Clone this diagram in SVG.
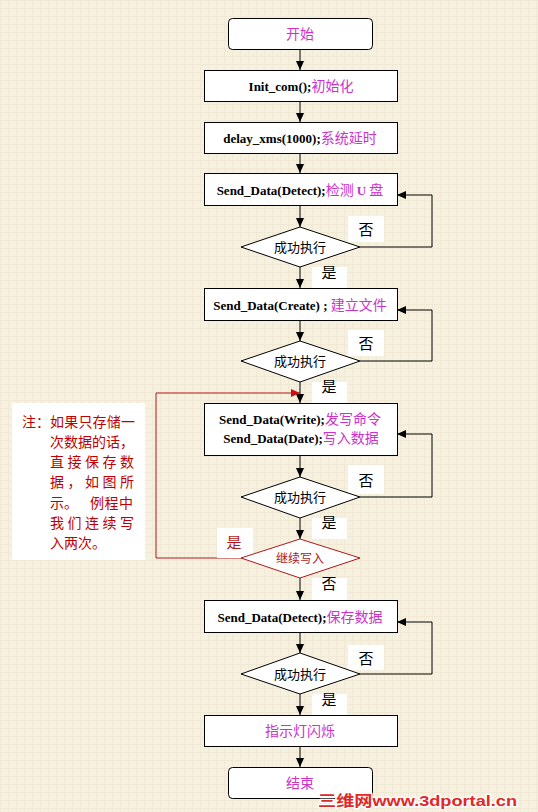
<svg xmlns="http://www.w3.org/2000/svg" width="538" height="812" viewBox="0 0 538 812">
<style>
.bx{fill:#fff;stroke:#000;stroke-width:1}
.dm{fill:#fff;stroke:#000;stroke-width:1}
.dmr{fill:#fff;stroke:#b01818;stroke-width:1}
.ln{fill:none;stroke:#000;stroke-width:1}
.rl{fill:none;stroke:#b01818;stroke-width:1}
.lb{fill:#fff;stroke:none}
.code{font-family:"Liberation Serif","Times New Roman",serif;font-weight:bold;font-size:13px;fill:#000}
.cn{font-family:"Noto Sans CJK SC",sans-serif;font-size:14px;fill:#cc33cc;font-weight:normal}
.t{font-family:"Noto Sans CJK SC",sans-serif;font-size:13px;fill:#000}
.yn{font-family:"Noto Sans CJK SC",sans-serif;font-size:15px;fill:#000}
.red{fill:#b01818}
.note{font-family:"Noto Sans CJK SC",sans-serif;font-size:14px;fill:#c00000}
</style>
<defs>
<pattern id="grid" width="8" height="8" patternUnits="userSpaceOnUse">
<rect width="8" height="8" fill="#f6f0df"/>
<path d="M0 0.5H8M0.5 0V8" stroke="#f1e9d5" stroke-width="1"/>
</pattern>
<marker id="ah" markerWidth="10" markerHeight="10" refX="9" refY="5" orient="auto" markerUnits="userSpaceOnUse">
<path d="M0,1 L9,5 L0,9 z" fill="#000"/>
</marker>
<marker id="ahr" markerWidth="10" markerHeight="10" refX="9" refY="5" orient="auto" markerUnits="userSpaceOnUse">
<path d="M0,1 L9,5 L0,9 z" fill="#cc1010"/>
</marker>
</defs>
<rect width="538" height="812" fill="url(#grid)"/>

<g id="connectors">
<path class="ln" d="M300,49V70" marker-end="url(#ah)"/>
<path class="ln" d="M300,101V122" marker-end="url(#ah)"/>
<path class="ln" d="M300,153V173" marker-end="url(#ah)"/>
<path class="ln" d="M300,206V227" marker-end="url(#ah)"/>
<path class="ln" d="M300,267V288" marker-end="url(#ah)"/>
<path class="ln" d="M300,321V341" marker-end="url(#ah)"/>
<path class="ln" d="M300,382V403" marker-end="url(#ah)"/>
<path class="ln" d="M300,455V477" marker-end="url(#ah)"/>
<path class="ln" d="M300,518V539" marker-end="url(#ah)"/>
<path class="ln" d="M300,578V600" marker-end="url(#ah)"/>
<path class="ln" d="M300,632V653" marker-end="url(#ah)"/>
<path class="ln" d="M300,694V715" marker-end="url(#ah)"/>
<path class="ln" d="M300,746V767" marker-end="url(#ah)"/>
<path class="ln" d="M360,247H432V195H397" marker-end="url(#ah)"/>
<path class="ln" d="M360,361H432V310H397" marker-end="url(#ah)"/>
<path class="ln" d="M360,497H432V434H397" marker-end="url(#ah)"/>
<path class="ln" d="M360,674H432V622H397" marker-end="url(#ah)"/>
<path class="rl" d="M241,558H156V393H300" marker-end="url(#ahr)"/>
</g>

<g id="labels">
<rect class="lb" x="348" y="216" width="36" height="26"/>
<text class="yn" x="366" y="235" text-anchor="middle">否</text>
<rect class="lb" x="312" y="267" width="35" height="22"/>
<text class="yn" x="329" y="278" text-anchor="middle">是</text>
<rect class="lb" x="348" y="330" width="36" height="26"/>
<text class="yn" x="366" y="349" text-anchor="middle">否</text>
<rect class="lb" x="312" y="382" width="35" height="21"/>
<text class="yn" x="329" y="392" text-anchor="middle">是</text>
<rect class="lb" x="348" y="465" width="36" height="29"/>
<text class="yn" x="366" y="486" text-anchor="middle">否</text>
<rect class="lb" x="312" y="518" width="35" height="21"/>
<text class="yn" x="329" y="528" text-anchor="middle">是</text>
<rect class="lb" x="217" y="528" width="36" height="30"/>
<text class="yn red" x="234" y="548" text-anchor="middle">是</text>
<rect class="lb" x="312" y="578" width="35" height="22"/>
<text class="yn" x="329" y="589" text-anchor="middle">否</text>
<rect class="lb" x="348" y="645" width="36" height="25"/>
<text class="yn" x="366" y="664" text-anchor="middle">否</text>
<rect class="lb" x="312" y="694" width="35" height="21"/>
<text class="yn" x="329" y="705" text-anchor="middle">是</text>
</g>

<g id="start">
<rect class="bx" x="228.5" y="18.5" width="144" height="31" rx="4"/>
<text class="cn" x="300" y="39" text-anchor="middle">开始</text>
</g>
<g id="init">
<rect class="bx" x="204.5" y="70.5" width="193" height="31"/>
<text x="301" y="91" text-anchor="middle"><tspan class="code">Init_com();</tspan><tspan class="cn">初始化</tspan></text>
</g>
<g id="delay">
<rect class="bx" x="204.5" y="122.5" width="193" height="31"/>
<text x="300" y="143" text-anchor="middle"><tspan class="code">delay_xms(1000);</tspan><tspan class="cn">系统延时</tspan></text>
</g>
<g id="detect">
<rect class="bx" x="204.5" y="173.5" width="193" height="32"/>
<text x="300" y="195" text-anchor="middle"><tspan class="code">Send_Data(Detect);</tspan><tspan class="cn">检测 </tspan><tspan class="code" style="fill:#cc33cc">U</tspan><tspan class="cn"> 盘</tspan></text>
</g>
<g id="d1">
<polygon class="dm" points="241,247 300,227 360,247 300,267"/>
<text class="t" x="300" y="252" text-anchor="middle">成功执行</text>
</g>
<g id="create">
<rect class="bx" x="204.5" y="288.5" width="193" height="32"/>
<text x="300" y="310" text-anchor="middle"><tspan class="code">Send_Data(Create) ; </tspan><tspan class="cn">建立文件</tspan></text>
</g>
<g id="d2">
<polygon class="dm" points="241,361 300,341 360,361 300,382"/>
<text class="t" x="300" y="366" text-anchor="middle">成功执行</text>
</g>
<g id="write">
<rect class="bx" x="204.5" y="403.5" width="193" height="52"/>
<text x="300" y="424" text-anchor="middle"><tspan class="code">Send_Data(Write);</tspan><tspan class="cn">发写命令</tspan></text>
<text x="301" y="443" text-anchor="middle"><tspan class="code">Send_Data(Date);</tspan><tspan class="cn">写入数据</tspan></text>
</g>
<g id="d3">
<polygon class="dm" points="241,497 300,477 360,497 300,518"/>
<text class="t" x="300" y="502" text-anchor="middle">成功执行</text>
</g>
<g id="d4">
<polygon class="dmr" points="241,558 300,539 360,558 300,578"/>
<text class="t red" x="300" y="563" text-anchor="middle" style="font-size:12px">继续写入</text>
</g>
<g id="save">
<rect class="bx" x="204.5" y="600.5" width="193" height="32"/>
<text x="300" y="622" text-anchor="middle"><tspan class="code">Send_Data(Detect);</tspan><tspan class="cn">保存数据</tspan></text>
</g>
<g id="d5">
<polygon class="dm" points="241,674 300,653 360,674 300,694"/>
<text class="t" x="300" y="679" text-anchor="middle">成功执行</text>
</g>
<g id="led">
<rect class="bx" x="204.5" y="715.5" width="193" height="31"/>
<text class="cn" x="300" y="736" text-anchor="middle">指示灯闪烁</text>
</g>
<g id="end">
<rect class="bx" x="228.5" y="767.5" width="144" height="31" rx="4"/>
<text class="cn" x="300" y="788" text-anchor="middle">结束</text>
</g>

<g id="note">
<rect x="12" y="403" width="133" height="157" fill="#fff"/>
<text class="note" x="22" y="427">注：</text>
<text class="note" x="50" y="427" textLength="85" lengthAdjust="spacing">如果只存储一</text>
<text class="note" x="50" y="447" textLength="84" lengthAdjust="spacing">次数据的话，</text>
<text class="note" x="50" y="467" textLength="84" lengthAdjust="spacing">直接保存数</text>
<text class="note" x="50" y="487" textLength="84" lengthAdjust="spacing">据，如图所</text>
<text class="note" x="50" y="508">示。</text>
<text class="note" x="90" y="508" textLength="43" lengthAdjust="spacing">例程中</text>
<text class="note" x="50" y="528" textLength="84" lengthAdjust="spacing">我们连续写</text>
<text class="note" x="50" y="548">入两次。</text>
</g>

<g id="watermark">
<text x="318" y="806" textLength="199" lengthAdjust="spacingAndGlyphs" style="font-family:'Liberation Sans','Noto Sans CJK SC',sans-serif;font-weight:bold;font-size:15px;fill:#e02828;stroke:#fff;stroke-width:2.5;paint-order:stroke">三维网www.3dportal.cn</text>
</g>
</svg>
